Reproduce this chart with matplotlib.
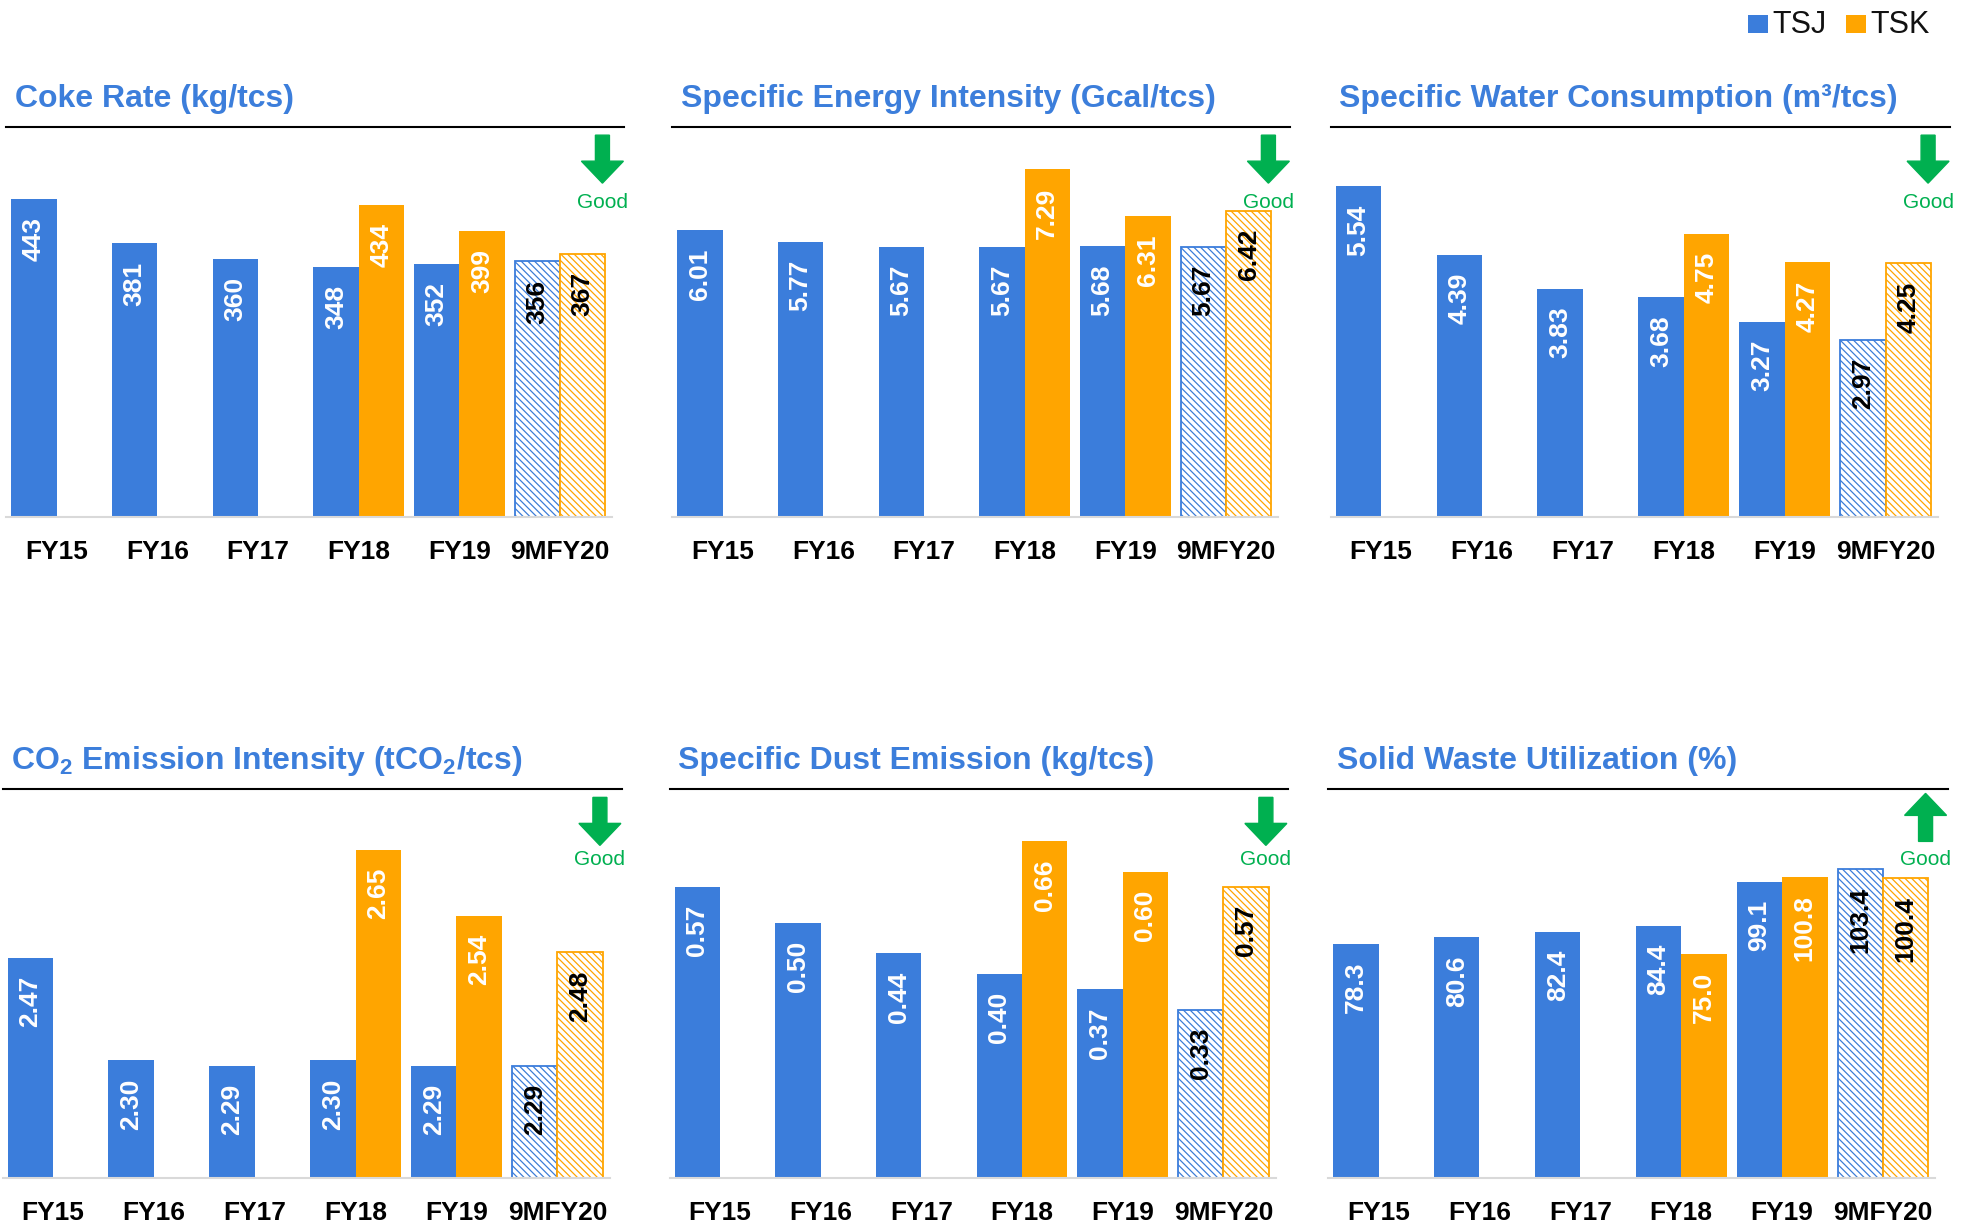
import matplotlib
matplotlib.use("Agg")
import matplotlib.pyplot as plt
import matplotlib.transforms as mtransforms
from matplotlib.patches import Polygon, Rectangle

plt.rcParams["font.family"] = ["Liberation Sans", "DejaVu Sans"]
plt.rcParams["mathtext.fontset"] = "custom"
plt.rcParams["mathtext.rm"] = "Liberation Sans"
plt.rcParams["mathtext.bf"] = "Liberation Sans:bold"
plt.rcParams["hatch.linewidth"] = 0.9

BLUE = "#3B7DDB"
ORANGE = "#FFA500"
GREEN = "#00B050"
TITLE_BLUE = "#3C7EDB"
BASE_GRAY = "#D9D9D9"

CATEGORIES = ["FY15", "FY16", "FY17", "FY18", "FY19", "9MFY20"]

# TSJ has all years, TSK starts in FY18 (None = no bar)
coke_tsj = [443, 381, 360, 348, 352, 356]
coke_tsk = [None, None, None, 434, 399, 367]
energy_tsj = [6.01, 5.77, 5.67, 5.67, 5.68, 5.67]
energy_tsk = [None, None, None, 7.29, 6.31, 6.42]
water_tsj = [5.54, 4.39, 3.83, 3.68, 3.27, 2.97]
water_tsk = [None, None, None, 4.75, 4.27, 4.25]
co2_tsj = [2.47, 2.30, 2.29, 2.30, 2.29, 2.29]
co2_tsk = [None, None, None, 2.65, 2.54, 2.48]
dust_tsj = [0.57, 0.50, 0.44, 0.40, 0.37, 0.33]
dust_tsk = [None, None, None, 0.66, 0.60, 0.57]
waste_tsj = [78.3, 80.6, 82.4, 84.4, 99.1, 103.4]
waste_tsk = [None, None, None, 75.0, 100.8, 100.4]

W = 0.45
PX = 1 / 100.0  # one output pixel in inches
PT = 0.72       # one output pixel in points

panels = [
    ("Coke Rate (kg/tcs)", coke_tsj, coke_tsk, "{:.0f}", (0, 542.8), "down",
     [5, 101, 491, 310]),
    ("Specific Energy Intensity (Gcal/tcs)", energy_tsj, energy_tsk, "{:.2f}", (0, 8.17), "down",
     [534, 101, 491, 310]),
    ("Specific Water Consumption (m³/tcs)", water_tsj, water_tsk, "{:.2f}", (0, 6.53), "down",
     [1057, 101, 492, 310]),
    (r"CO$_\mathbf{2}$ Emission Intensity (tCO$_\mathbf{2}$/tcs)", co2_tsj, co2_tsk, "{:.2f}",
     (2.103, 2.751), "down", [2, 627, 492, 309]),
    ("Specific Dust Emission (kg/tcs)", dust_tsj, dust_tsk, "{:.2f}", (0, 0.761), "down",
     [532, 627, 491, 309]),
    ("Solid Waste Utilization (%)", waste_tsj, waste_tsk, "{:.1f}", (0, 129.9), "up",
     [1055, 627, 492, 309]),
]

fig = plt.figure(figsize=(19.74, 12.25), dpi=100)
DW, DH = 1568.0, 973.0  # coordinates measured on the shrunk reference


def draw_bar(ax, x, v, color, hatched, fmt):
    if hatched:
        ax.bar(x, v, W, color="white", edgecolor=color, hatch="\\" * 5,
               linewidth=1.3, zorder=2)
        txt_color = "black"
    else:
        ax.bar(x, v, W, color=color, linewidth=0, zorder=2)
        txt_color = "white"
    ax.annotate(fmt.format(v), xy=(x, v), xytext=(0, -13), textcoords="offset points",
                rotation=90, ha="center", va="top", fontsize=19, fontweight="bold",
                color=txt_color, zorder=3)


def draw_arrow(ax, direction, good_gap):
    # block arrow defined in pixels, anchored just below the title rule
    if direction == "down":
        verts = [(-7, 0), (7, 0), (7, -26), (21, -26), (0, -48), (-21, -26), (-7, -26)]
    else:
        verts = [(0, 0), (21, -22), (7, -22), (7, -48), (-7, -48), (-7, -22), (-21, -22)]
    top_gap = 8 if direction == "down" else 4
    verts = [((vx - 22) * PX, (vy - top_gap) * PX) for vx, vy in verts]
    trans = fig.dpi_scale_trans + mtransforms.ScaledTranslation(1, 1, ax.transAxes)
    ax.add_patch(Polygon(verts, closed=True, transform=trans, color=GREEN,
                         clip_on=False, zorder=4))
    ax.annotate("Good", xy=(1, 1), xycoords="axes fraction",
                xytext=(-22 * PT, -good_gap * PT), textcoords="offset points",
                ha="center", va="center", fontsize=15, color=GREEN)


for k, (title, tsj, tsk, fmt, ylim, direction, (px, py, pw, ph)) in enumerate(panels):
    ax = fig.add_axes([px / DW, 1 - (py + ph) / DH, pw / DW, ph / DH])
    last = len(CATEGORIES) - 1
    for i, v in enumerate(tsj):
        draw_bar(ax, i - W / 2, v, BLUE, i == last, fmt)
    for i, v in enumerate(tsk):
        if v is not None:
            draw_bar(ax, i + W / 2, v, ORANGE, i == last, fmt)

    ax.set_xlim(-0.5, 5.64)
    ax.set_ylim(*ylim)
    ax.set_yticks([])
    ax.set_xticks(range(len(CATEGORIES)))
    ax.set_xticklabels(CATEGORIES, fontsize=19, fontweight="bold")
    ax.tick_params(axis="x", length=0, pad=16)
    for s in ("left", "right"):
        ax.spines[s].set_visible(False)
    ax.spines["top"].set_linewidth(1.5)
    ax.spines["top"].set_color("black")
    ax.spines["bottom"].set_color(BASE_GRAY)
    ax.spines["bottom"].set_linewidth(1.5)
    ax.spines["bottom"].set_bounds(-0.5, 5.52)

    ax.annotate(title, xy=(0, 1), xycoords="axes fraction",
                xytext=(6, 20 * PT), textcoords="offset points",
                ha="left", va="baseline", fontsize=23, fontweight="bold", color=TITLE_BLUE)

    draw_arrow(ax, direction, 75 if k < 3 else 70)

# legend at the top right
FW, FH = 1974.0, 1225.0
for x0, color, label in [(1748, BLUE, "TSJ"), (1846, ORANGE, "TSK")]:
    fig.add_artist(Rectangle((x0 / FW, 1 - 33 / FH), 20 / FW, 18 / FH,
                             transform=fig.transFigure, color=color, linewidth=0))
    fig.text((x0 + 24) / FW, 1 - 33 / FH, label, fontsize=22, va="baseline",
             ha="left", color="#111111")

fig.savefig("out.png", dpi=100)
